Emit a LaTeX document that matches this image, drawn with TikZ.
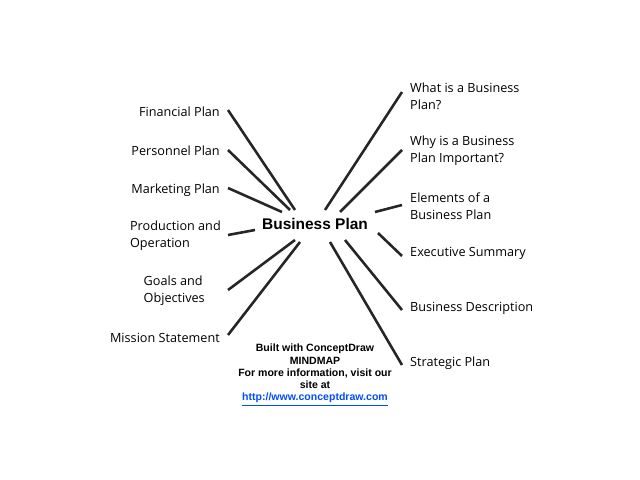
\documentclass[tikz,border=0pt]{standalone}
\usepackage{fontspec}
\setmainfont{Open Sans}
\newfontfamily\arialfont{Liberation Sans}
\begin{document}
\begin{tikzpicture}[x=0.03cm, y=-0.03cm,
  branch/.style={line width=2.2pt, draw=black!85},
  leftlabel/.style={anchor=east, align=right, font=\fontsize{10.8}{14.5}\selectfont, inner sep=0pt},
  rightlabel/.style={anchor=west, align=left, font=\fontsize{10.8}{14.5}\selectfont, inner sep=0pt}]
  \useasboundingbox (0,0) rectangle (640,480);
  \node[font=\arialfont\bfseries\fontsize{13.2}{15}\selectfont] (BP) at (315,224) {Business Plan};
  % left side
  \node[leftlabel] (fin) at (220,112) {Financial Plan};
  \node[leftlabel] (pers) at (220,151) {Personnel Plan};
  \node[leftlabel] (mark) at (220,190) {Marketing Plan};
  \node[leftlabel, align=left] (prod) at (221,236) {Production and\\Operation};
  \node[leftlabel, align=left] (goal) at (205,291) {Goals and\\Objectives};
  \node[leftlabel] (miss) at (220,338) {Mission Statement};
  % right side
  \node[rightlabel] (what) at (410,96) {What is a Business\\Plan?};
  \node[rightlabel] (why) at (410,151) {Why is a Business\\Plan Important?};
  \node[rightlabel] (elem) at (410,206) {Elements of a\\Business Plan};
  \node[rightlabel] (exec) at (410,253) {Executive Summary};
  \node[rightlabel] (desc) at (410,308) {Business Description};
  \node[rightlabel] (strat) at (410,363) {Strategic Plan};
  % inner ends
  \coordinate (cfin) at (295,210);
  \coordinate (cpers) at (290,210);
  \coordinate (cmark) at (282,212);
  \coordinate (cprod) at (255,230);
  \coordinate (cgoal) at (295,240);
  \coordinate (cmiss) at (300,242);
  \coordinate (cwhat) at (325,210);
  \coordinate (cwhy) at (340,212);
  \coordinate (celem) at (375,212);
  \coordinate (cexec) at (378,233);
  \coordinate (cdesc) at (345,240);
  \coordinate (cstrat) at (330,242);
  \draw[branch] (cfin) -- (228,110);
  \draw[branch] (cpers) -- (228,150);
  \draw[branch] (cmark) -- (228,188);
  \draw[branch] (cprod) -- (228,235);
  \draw[branch] (cgoal) -- (228,290);
  \draw[branch] (cmiss) -- (228,335);
  \draw[branch] (cwhat) -- (402,92);
  \draw[branch] (cwhy) -- (402,150);
  \draw[branch] (celem) -- (402,205);
  \draw[branch] (cexec) -- (402,256);
  \draw[branch] (cdesc) -- (402,310);
  \draw[branch] (cstrat) -- (402,365);
  % footer
  \node[font=\arialfont\bfseries\fontsize{9}{10.5}\selectfont, align=center, anchor=north] (info) at (315,340)
    {Built with ConceptDraw\\MINDMAP\\For more information, visit our\\site at\\
     \textcolor{blue!70!cyan}{\underline{http://www.conceptdraw.com}}};
\end{tikzpicture}
\end{document}
